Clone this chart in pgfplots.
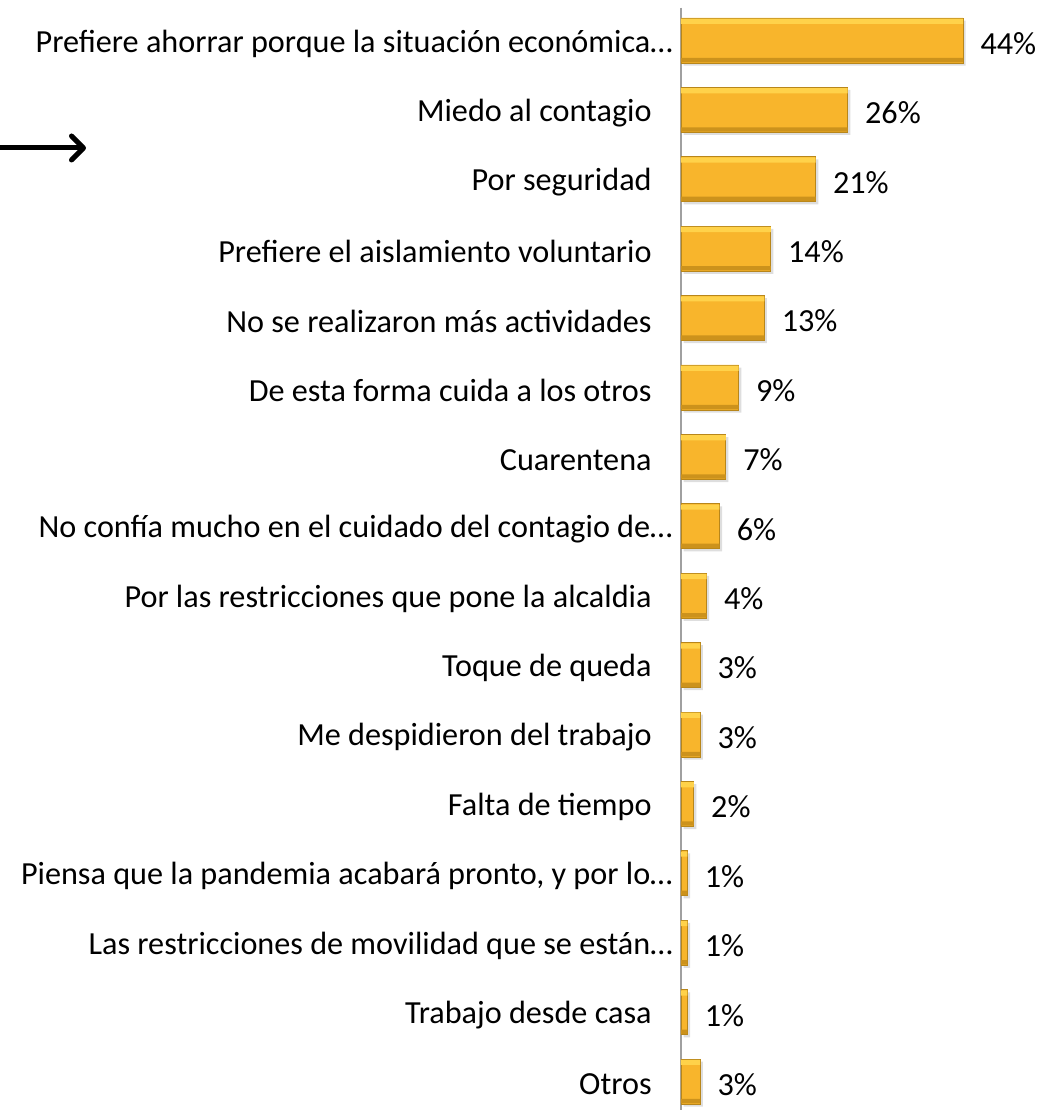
\documentclass[border=0pt]{standalone}
\usepackage{pgfplots}
\pgfplotsset{compat=1.18}
\usepackage{fontspec}
\setmainfont{Carlito}
\usetikzlibrary{arrows.meta}
\definecolor{barlight}{HTML}{FFD24A}
\definecolor{barmid}{HTML}{F8B52C}
\definecolor{bardark}{HTML}{CC921C}
\definecolor{baredge}{HTML}{B8861A}
\definecolor{axgray}{HTML}{A0A0A0}
\newcommand{\trsp}{\rule{10.5pt}{0pt}}
\pgfplotstableread{
val pos
44 0
26 1
21 2
14 3
13 4
9 5
7 6
6 7
4 8
3 9
3 10
2 11
1 12
1 13
1 14
3 15
}\datatable
\begin{document}
\begin{tikzpicture}
\path[use as bounding box] (0,0) rectangle (525.5pt,555pt);
\begin{axis}[
  at={(340.5pt,0pt)}, anchor=south west,
  scale only axis, width=185pt, height=551.25pt,
  xmin=0, xmax=57.7,
  ymin=-0.475, ymax=15.41,
  y dir=reverse,
  axis x line=none,
  axis y line*=left,
  y axis line style={draw=axgray, line width=1pt, -},
  ytick={0,...,15},
  yticklabels={
    {Prefiere ahorrar porque la situación económica…},
    {Miedo al contagio\trsp},
    {Por seguridad\trsp},
    {Prefiere el aislamiento voluntario\trsp},
    {No se realizaron más actividades\trsp},
    {De esta forma cuida a los otros\trsp},
    {Cuarentena\trsp},
    {No confía mucho en el cuidado del contagio de…},
    {Por las restricciones que pone la alcaldia\trsp},
    {Toque de queda\trsp},
    {Me despidieron del trabajo\trsp},
    {Falta de tiempo\trsp},
    {Piensa que la pandemia acabará pronto, y por lo…},
    {Las restricciones de movilidad que se están…},
    {Trabajo desde casa\trsp},
    {Otros\trsp}},
  major tick length=0pt,
  yticklabel style={anchor=east, inner sep=0pt, xshift=-4pt, yshift=-1.5pt, font=\fontsize{16.1pt}{19pt}\selectfont},
  xbar, bar width=22.5pt,
  clip=false,
  /pgf/number format/assume math mode=true,
]
% shadow
\addplot[xbar, draw=none, fill=black, fill opacity=0.13, bar shift=-1.3pt, xshift=1.3pt] table[x=val, y=pos] {\datatable};
% main bar
\addplot[xbar, bar shift=0pt, draw=baredge, line width=0.4pt, fill=barmid,
  nodes near coords={\pgfmathprintnumber{\pgfplotspointmeta}\%},
  point meta=x,
  nodes near coords style={anchor=west, inner sep=0pt, xshift=8.5pt, yshift=-1.5pt, font=\fontsize{16.1pt}{19pt}\selectfont, text=black}]
  table[x=val, y=pos] {\datatable};
% top highlight
\addplot[xbar, draw=none, fill=barlight, bar width=2.6pt, bar shift=9.6pt] table[x=val, y=pos] {\datatable};
% bottom shade
\addplot[xbar, draw=none, fill=bardark, bar width=2.2pt, bar shift=-9.8pt] table[x=val, y=pos] {\datatable};
\end{axis}
\draw[line width=2.5pt, line cap=round, -{Straight Barb[length=6pt,width=12pt, line cap=round, line join=round]}] (-2pt,481pt) -- (43pt,481pt);
\end{tikzpicture}
\end{document}
